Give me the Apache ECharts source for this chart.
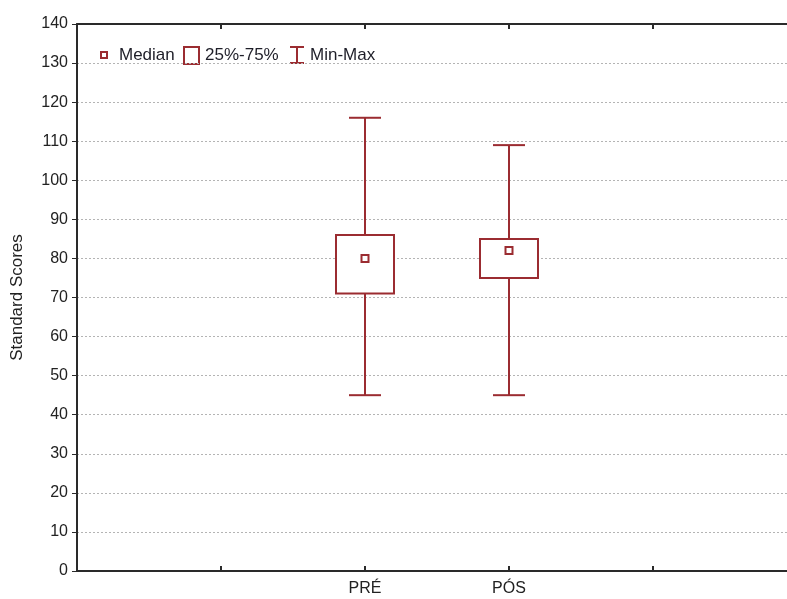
<!DOCTYPE html>
<html>
<head>
<meta charset="utf-8">
<script src="https://cdn.jsdelivr.net/npm/echarts@6/dist/echarts.min.js"></script>
<style>
  html, body { margin: 0; padding: 0; background: #fff; }
  #chart { width: 787px; height: 599px; }
</style>
</head>
<body>
<div id="chart"></div>
<script>
// Groups and their summary statistics (Standard Scores)
const categories = ['PRÉ', 'PÓS'];
const minValues = [45, 45];
const q1Values = [71, 75];
const medianValues = [80, 82];
const q3Values = [86, 85];
const maxValues = [116, 109];

// x axis has empty slots on both sides of the two groups
const xSlots = ['', ''].concat(categories, ['', '']);
const firstSlot = 2;

const yTicks = { min: 0, max: 140, interval: 10 };

const MARK = '#9b2c31';
const AXIS = '#2a2a2a';
const FONT = 'Liberation Sans, Arial, sans-serif';

const boxData = categories.map((c, i) => [
  firstSlot + i, minValues[i], q1Values[i], medianValues[i], q3Values[i], maxValues[i]
]);

const chart = echarts.init(document.getElementById('chart'));

function renderBox(params, api) {
  const x = api.value(0);
  const pMin = api.coord([x, api.value(1)]);
  const pQ1 = api.coord([x, api.value(2)]);
  const pMed = api.coord([x, api.value(3)]);
  const pQ3 = api.coord([x, api.value(4)]);
  const pMax = api.coord([x, api.value(5)]);
  const cx = pMin[0];
  const boxW = 58, capW = 32, medS = 7;
  const style = { stroke: MARK, lineWidth: 2, fill: null };
  return {
    type: 'group',
    children: [
      { type: 'line', shape: { x1: cx, y1: pMax[1], x2: cx, y2: pQ3[1] }, style },
      { type: 'line', shape: { x1: cx - capW / 2, y1: pMax[1], x2: cx + capW / 2, y2: pMax[1] }, style },
      { type: 'line', shape: { x1: cx, y1: pQ1[1], x2: cx, y2: pMin[1] }, style },
      { type: 'line', shape: { x1: cx - capW / 2, y1: pMin[1], x2: cx + capW / 2, y2: pMin[1] }, style },
      { type: 'rect', shape: { x: cx - boxW / 2, y: pQ3[1], width: boxW, height: pQ1[1] - pQ3[1] },
        style: { stroke: MARK, lineWidth: 2, fill: '#fff' } },
      { type: 'rect', shape: { x: cx - medS / 2, y: pMed[1] - medS / 2, width: medS, height: medS },
        style: { stroke: MARK, lineWidth: 2, fill: '#fff' } }
    ]
  };
}

const legendText = { fill: '#1e1e28', font: '17px ' + FONT, textVerticalAlign: 'middle' };
const legendY = 55;

chart.setOption({
  animation: false,
  backgroundColor: '#fff',
  // the plot runs a little past the right edge of the canvas
  grid: { left: 77, top: 24, width: 720, height: 547, show: false, outerBoundsMode: 'none', containLabel: false },
  xAxis: [
    {
      type: 'category', data: xSlots, boundaryGap: false, position: 'bottom',
      axisLine: { show: true, lineStyle: { color: AXIS, width: 2 } },
      axisTick: { show: true, inside: true, length: 5, lineStyle: { color: AXIS, width: 2 } },
      axisLabel: { color: '#222', fontSize: 16, fontFamily: FONT, margin: 10 },
      splitLine: { show: false }
    },
    {
      type: 'category', data: xSlots, boundaryGap: false, position: 'top',
      axisLine: { show: true, lineStyle: { color: AXIS, width: 2 } },
      axisTick: { show: true, inside: true, length: 5, lineStyle: { color: AXIS, width: 2 } },
      axisLabel: { show: false },
      splitLine: { show: false }
    }
  ],
  yAxis: {
    type: 'value', min: yTicks.min, max: yTicks.max, interval: yTicks.interval,
    name: 'Standard Scores', nameLocation: 'middle', nameGap: 51,
    nameTextStyle: { color: '#222', fontSize: 17, fontFamily: FONT },
    axisLine: { show: true, lineStyle: { color: AXIS, width: 2 } },
    axisTick: { show: true, length: 5, lineStyle: { color: AXIS, width: 1 } },
    axisLabel: { color: '#222', fontSize: 16, fontFamily: FONT, margin: 9 },
    splitLine: { show: true, lineStyle: { color: '#b4b4b4', type: [2, 2], width: 1 } }
  },
  series: [{
    type: 'custom',
    xAxisIndex: 0,
    renderItem: renderBox,
    encode: { x: 0, y: [1, 2, 3, 4, 5] },
    data: boxData,
    z: 5
  }],
  graphic: [
    { type: 'rect', shape: { x: 101, y: legendY - 3, width: 6, height: 6 },
      style: { stroke: MARK, lineWidth: 2, fill: '#fff' } },
    { type: 'text', x: 119, y: legendY, style: Object.assign({ text: 'Median' }, legendText) },
    { type: 'rect', shape: { x: 184, y: legendY - 8, width: 15, height: 17 },
      style: { stroke: MARK, lineWidth: 2, fill: '#fff' } },
    { type: 'text', x: 205, y: legendY, style: Object.assign({ text: '25%-75%' }, legendText) },
    { type: 'group', children: [
      { type: 'line', shape: { x1: 297, y1: legendY - 8, x2: 297, y2: legendY + 8 }, style: { stroke: MARK, lineWidth: 2 } },
      { type: 'line', shape: { x1: 290, y1: legendY - 8, x2: 304, y2: legendY - 8 }, style: { stroke: MARK, lineWidth: 2 } },
      { type: 'line', shape: { x1: 290, y1: legendY + 8, x2: 304, y2: legendY + 8 }, style: { stroke: MARK, lineWidth: 2 } }
    ] },
    { type: 'text', x: 310, y: legendY, style: Object.assign({ text: 'Min-Max' }, legendText) }
  ]
});
</script>
</body>
</html>
